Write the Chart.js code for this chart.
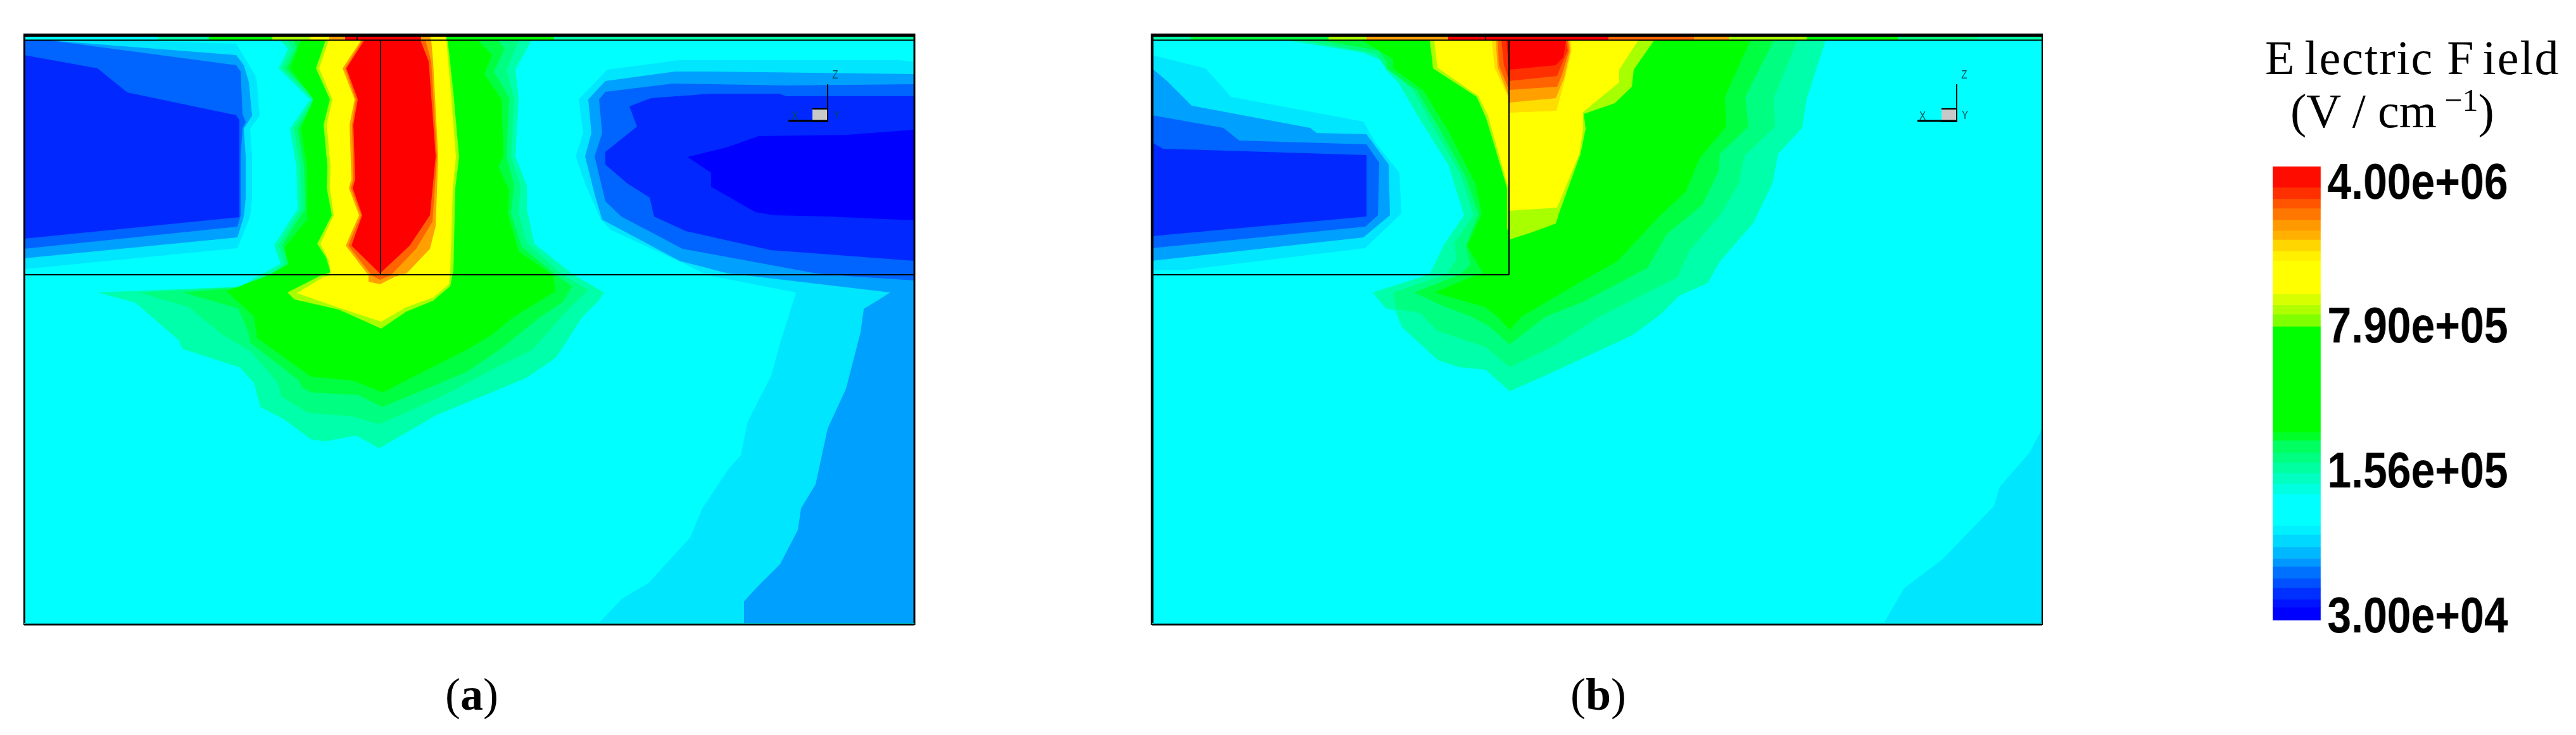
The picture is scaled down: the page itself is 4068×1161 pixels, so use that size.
<!DOCTYPE html>
<html>
<head>
<meta charset="utf-8">
<script src="https://cdn.jsdelivr.net/npm/chart.js@4"></script>
<style>
    html, body { margin: 0; background: #fff; }
    body { position: relative; width: 4068px; height: 1161px; overflow: hidden; }
    canvas { position: absolute; }
    .txt { position: absolute; white-space: nowrap; color: #000; font-family: "Liberation Serif", serif; }
    .triad { position: absolute; transform: translate(-50%, -50%) scaleX(0.8); color: #00505a; font: 19px "Liberation Sans", sans-serif; }
</style>
</head>
<body>
<canvas id="panel-a"></canvas>
<canvas id="panel-b"></canvas>
<canvas id="colorbar"></canvas>

<div class="txt" style="left:3577px;top:48px;font-size:76px;letter-spacing:2px"><span style="margin-right:14px">E</span>lectric <span style="margin-right:12px">F</span>ield</div>
<div class="txt" style="left:3617px;top:132px;font-size:76px">(V / cm<sup style="font-size:50px;line-height:0"> &#8722;1</sup>)</div>
<div class="txt" style="left:703px;top:1056px;font-size:72px">(<b>a</b>)</div>
<div class="txt" style="left:2480px;top:1056px;font-size:72px">(<b>b</b>)</div>

<div class="triad" style="left:1255px;top:183px">X</div>
<div class="triad" style="left:1321px;top:182px">Y</div>
<div class="triad" style="left:1319px;top:118px">Z</div>
<div class="triad" style="left:3036px;top:183px">X</div>
<div class="triad" style="left:3103px;top:182px">Y</div>
<div class="triad" style="left:3102px;top:118px">Z</div>

<script>
// colour levels of the field, low to high
const C_CYAN = '#00ffff';
const C_LOW_1 = '#00e6ff';
const C_LOW_2 = '#00a0ff';
const C_LOW_3 = '#0064ff';
const C_LOW_4 = '#0028ff';
const C_LOW_5 = '#0000ff';
const C_MID_1 = '#00ffaa';
const C_MID_2 = '#00ff80';
const C_MID_3 = '#00ff40';
const C_GREEN = '#00ff00';
const C_LIME = '#a8ff00';
const C_YELLOW = '#ffff00';
const C_GOLD = '#ffdd00';
const C_AMBER = '#ffa000';
const C_ORANGE = '#ff6400';
const C_RED_1 = '#ff3000';
const C_RED = '#ff0000';

// contours are [x, depth], same units for both panels

// panel (a), left side of the gate
const a_low_left_1 = [[38,64],[206,64],[373,69],[393,102],[405,123],[410,183],[395,203],[398,247],[398,313],[395,342],[375,392],[40,425],[38,425]];
const a_low_left_2 = [[38,64],[80,64],[373,87],[385,103],[393,130],[398,183],[385,203],[388,247],[388,313],[385,342],[375,375],[38,408]];
const a_low_left_3 = [[38,64],[80,64],[373,103],[380,113],[383,180],[388,193],[383,203],[380,247],[380,340],[375,358],[38,393]];
const a_low_left_4 = [[38,87],[154,108],[201,146],[373,182],[378,190],[378,343],[38,377]];

// panel (a), right side
const a_low_right_1 = [[959,110],[1073,95],[1421,95],[1444,98],[1444,986],[944,986],[982,946],[1024,921],[1090,849],[1109,803],[1151,740],[1170,719],[1180,668],[1218,593],[1232,542],[1257,462],[1118,435],[1073,413],[964,363],[949,347],[924,290],[909,247],[921,210],[914,157]];
const a_low_right_2 = [[956,128],[1066,113],[1123,113],[1444,117],[1444,986],[1175,986],[1175,950],[1194,929],[1232,891],[1260,837],[1265,803],[1288,765],[1307,677],[1336,614],[1359,525],[1364,488],[1406,462],[1178,435],[1150,432],[1073,412],[951,347],[939,307],[924,247],[934,210],[929,157]];
const a_low_right_3 = [[956,145],[1063,132],[1242,135],[1444,133],[1444,443],[1352,437],[1290,432],[1078,393],[981,342],[956,318],[939,247],[951,210],[946,157]];
const a_low_right_4 = [[994,168],[1028,155],[1123,148],[1230,148],[1242,152],[1444,152],[1444,412],[1217,395],[1083,365],[1033,342],[1026,312],[991,290],[956,260],[956,240],[1006,200]];
const a_low_right_5 = [[1086,248],[1150,232],[1198,215],[1337,213],[1444,205],[1444,348],[1307,342],[1222,340],[1193,335],[1123,295],[1123,273]];

// panel (a), high field around the gate edge
const a_mid_1 = [[443,64],[455,77],[440,108],[490,157],[458,203],[468,263],[470,330],[433,387],[443,417],[413,433],[378,453],[154,462],[214,478],[239,500],[283,538],[288,551],[378,580],[401,605],[411,643],[448,662],[491,694],[514,697],[562,688],[599,708],[689,656],[831,597],[878,565],[920,500],[944,477],[954,462],[904,433],[844,385],[832,330],[832,293],[814,247],[819,157],[814,110],[839,64]];
const a_mid_2 = [[454,64],[462,77],[446,108],[494,157],[464,203],[474,263],[476,330],[440,387],[449,417],[425,433],[385,453],[219,462],[298,485],[316,500],[353,530],[396,555],[439,605],[444,626],[486,652],[557,658],[599,670],[698,626],[788,578],[840,553],[887,500],[899,487],[929,458],[887,433],[832,383],[819,337],[822,293],[807,247],[812,157],[800,110],[819,64]];
const a_mid_3 = [[465,64],[468,77],[452,108],[498,157],[470,203],[480,263],[482,330],[446,387],[455,417],[437,433],[392,453],[289,462],[376,487],[382,500],[392,525],[396,542],[472,601],[477,612],[491,620],[566,624],[604,643],[736,588],[788,553],[854,500],[889,477],[904,452],[879,435],[824,390],[807,337],[812,293],[800,247],[804,155],[780,113],[797,77],[787,64]];
const a_green = [[475,64],[458,108],[495,157],[475,203],[485,263],[485,347],[450,390],[455,417],[428,433],[358,460],[401,500],[406,534],[491,595],[557,601],[604,620],[736,553],[775,530],[812,500],[877,460],[874,435],[819,397],[802,337],[804,300],[787,263],[795,247],[792,157],[765,117],[777,87],[755,64]];
const a_lime = [[514,64],[499,108],[521,157],[511,197],[517,263],[516,297],[524,340],[501,385],[515,407],[522,430],[505,436],[454,462],[465,473],[535,489],[602,519],[642,492],[684,475],[711,452],[716,427],[719,297],[725,248],[716,147],[707,64]];
const a_yellow = [[519,64],[504,108],[525,157],[516,197],[522,263],[521,297],[527,340],[506,385],[520,413],[522,435],[510,438],[469,463],[535,486],[602,508],[642,485],[684,470],[709,449],[711,427],[715,297],[720,248],[712,147],[705,64]];
const a_amber = [[570,64],[541,108],[560,157],[552,197],[555,283],[551,297],[567,340],[546,388],[582,435],[582,445],[600,449],[624,437],[642,432],[679,393],[688,357],[692,247],[684,97],[681,64]];
const a_orange = [[572,64],[545,108],[562,157],[556,197],[558,283],[554,297],[570,340],[550,388],[587,435],[600,442],[617,435],[657,393],[683,350],[690,247],[681,97],[672,64]];
const a_red = [[575,64],[547,108],[565,157],[558,197],[561,283],[557,297],[572,340],[555,388],[600,432],[647,388],[679,340],[688,247],[677,97],[664,64]];

// panel (b)
const b_low_1 = [[1819,87],[1904,108],[1944,153],[2153,192],[2173,227],[2210,273],[2213,337],[2156,392],[1867,427],[1819,427]];
const b_low_2 = [[1819,108],[1842,127],[1882,167],[2069,202],[2079,210],[2158,212],[2193,260],[2195,340],[2153,375],[1819,412]];
const b_low_3 = [[1819,182],[1932,202],[1957,222],[2158,228],[2178,257],[2176,340],[2156,358],[1819,392]];
const b_low_4 = [[1819,225],[1837,235],[1904,237],[2158,245],[2158,342],[1819,373]];
const b_low_corner = [[3225,677],[3205,715],[3158,769],[3149,799],[3068,883],[3007,929],[2974,986],[3225,986]];

const b_mid_1 = [[2034,64],[2153,83],[2185,97],[2188,110],[2208,130],[2245,193],[2287,260],[2312,340],[2280,387],[2258,433],[2168,462],[2188,487],[2203,490],[2214,517],[2271,569],[2304,580],[2346,584],[2384,618],[2441,593],[2577,530],[2622,497],[2652,467],[2697,447],[2716,413],[2769,352],[2799,290],[2808,243],[2846,202],[2853,157],[2883,64]];
const b_mid_2 = [[2059,64],[2173,85],[2188,107],[2230,140],[2265,203],[2307,277],[2327,340],[2297,383],[2300,410],[2285,433],[2200,462],[2205,488],[2245,495],[2247,500],[2271,523],[2346,548],[2384,580],[2455,546],[2526,500],[2649,438],[2667,397],[2716,340],[2746,290],[2754,247],[2803,200],[2801,155],[2838,64]];
const b_mid_3 = [[2088,64],[2178,80],[2190,98],[2190,108],[2238,143],[2273,203],[2315,280],[2335,338],[2315,388],[2322,418],[2307,433],[2233,462],[2278,483],[2323,500],[2351,515],[2384,544],[2441,500],[2500,477],[2602,423],[2632,370],[2689,323],[2714,270],[2716,243],[2761,200],[2756,153],[2801,64]];
const b_green = [[2151,64],[2200,93],[2200,108],[2248,143],[2287,207],[2330,290],[2340,338],[2317,388],[2342,432],[2322,438],[2265,462],[2345,485],[2365,500],[2384,521],[2403,500],[2500,443],[2555,412],[2617,345],[2662,303],[2684,250],[2726,200],[2724,153],[2764,64]];
const b_lime = [[2258,64],[2263,108],[2332,153],[2347,187],[2380,297],[2380,360],[2385,378],[2419,367],[2457,353],[2462,337],[2496,243],[2504,203],[2501,180],[2550,163],[2577,137],[2580,110],[2612,64]];
const b_yellow = [[2265,64],[2270,107],[2335,152],[2350,183],[2382,297],[2383,333],[2459,328],[2494,243],[2500,203],[2500,177],[2557,130],[2557,110],[2587,64]];
const b_gold = [[2356,64],[2360,107],[2381,152],[2384,178],[2458,175],[2471,127],[2482,80],[2481,64]];
const b_amber = [[2362,64],[2365,107],[2383,153],[2384,162],[2457,155],[2470,123],[2480,80],[2478,64]];
const b_orange = [[2365,64],[2367,103],[2383,142],[2459,137],[2467,117],[2478,80],[2476,64]];
const b_red_1 = [[2371,64],[2375,103],[2383,128],[2459,120],[2464,107],[2476,80],[2473,64]];
const b_red = [[2379,64],[2383,110],[2457,103],[2469,90],[2473,64]];

// thin top layer, colour changes at these x
const a_strip_stops = [38, 250, 330, 430, 490, 520, 545, 665, 680, 705, 875, 1444];
const a_strip_colors = [C_CYAN, C_MID_1, C_GREEN, C_LIME, C_YELLOW, C_AMBER, C_RED, C_AMBER, C_YELLOW, C_GREEN, C_MID_1];
const b_strip_stops = [1819, 1880, 2098, 2158, 2287, 2540, 2675, 2730, 2853, 2997, 3122, 3225];
const b_strip_colors = [C_MID_1, C_MID_3, C_LIME, C_AMBER, C_RED, C_ORANGE, C_AMBER, C_LIME, C_GREEN, C_MID_2, C_MID_1];

// colour bar
const bar_edges = [0, 2.8, 4.6, 7.1, 9.2, 11.8, 13.6, 16.1, 18.8, 20.8, 27.8, 30, 32.4, 34.7, 36.9, 39.6, 41.4, 64.7, 67.4, 69.4, 71.9, 79.2, 81.3, 83.8, 85.8, 88.2, 90.7, 92.8, 95.3, 100];
const bar_colors = ['#0000ff', '#0014ff', '#0030ff', '#0050ff', '#0070ff', '#0098ff', '#00b8ff', '#00d8ff', '#00f0ff', '#00ffff', '#00ffe0', '#00ffc0', '#00ffa0', '#00ff80', '#00ff60', '#00ff28', '#00ff00', '#80ff00', '#b0ff00', '#d8ff00', '#ffff00', '#fff000', '#ffd500', '#ffb000', '#ff9900', '#ff7700', '#ff5500', '#ff3000', '#ff0c00'];
const bar_tick_levels = [95.9, 64.3, 32.3, 0.4];
const bar_tick_labels = ['4.00e+06', '7.90e+05', '1.56e+05', '3.00e+04'];

const a_contours = [
    [C_LOW_1, a_low_left_1], [C_LOW_2, a_low_left_2], [C_LOW_3, a_low_left_3], [C_LOW_4, a_low_left_4],
    [C_LOW_1, a_low_right_1], [C_LOW_2, a_low_right_2], [C_LOW_3, a_low_right_3], [C_LOW_4, a_low_right_4], [C_LOW_5, a_low_right_5],
    [C_MID_1, a_mid_1], [C_MID_2, a_mid_2], [C_MID_3, a_mid_3], [C_GREEN, a_green],
    [C_LIME, a_lime], [C_YELLOW, a_yellow], [C_AMBER, a_amber], [C_ORANGE, a_orange], [C_RED, a_red]
];
const b_contours = [
    [C_LOW_1, b_low_1], [C_LOW_2, b_low_2], [C_LOW_3, b_low_3], [C_LOW_4, b_low_4], [C_LOW_1, b_low_corner],
    [C_MID_1, b_mid_1], [C_MID_2, b_mid_2], [C_MID_3, b_mid_3], [C_GREEN, b_green],
    [C_LIME, b_lime], [C_YELLOW, b_yellow], [C_GOLD, b_gold], [C_AMBER, b_amber], [C_ORANGE, b_orange], [C_RED_1, b_red_1], [C_RED, b_red]
];

function to_points(pairs) {
    return pairs.map((p) => ({ x: p[0], y: p[1] }));
}

function rect(x0, y0, x1, y1) {
    return [[x0, y0], [x1, y0], [x1, y1], [x0, y1]];
}

function area_dataset(color, pairs) {
    return {
        type: 'scatter',
        data: to_points(pairs),
        showLine: true,
        fill: 'shape',
        backgroundColor: color,
        borderWidth: 0,
        pointRadius: 0
    };
}

function line_dataset(pairs, width, color) {
    return {
        type: 'scatter',
        data: to_points(pairs),
        showLine: true,
        fill: false,
        borderColor: color || '#000',
        borderWidth: width,
        pointRadius: 0
    };
}

function strip_datasets(stops, colors) {
    return colors.map((color, i) => area_dataset(color, rect(stops[i], 58, stops[i + 1], 63)));
}

function triad_datasets(x) {
    const box = area_dataset('#c8c8c8', rect(x - 24, 172, x, 192));
    box.borderColor = '#000';
    box.borderWidth = 2;
    return [
        line_dataset([[x, 133], [x, 172]], 2),
        box,
        line_dataset([[x - 62, 191], [x, 191]], 3)
    ];
}

function make_panel(canvas_id, left, contours, extra) {
    const canvas = document.getElementById(canvas_id);
    canvas.style.left = left + 'px';
    canvas.style.top = '45px';
    canvas.width = 1424;
    canvas.height = 950;

    const datasets = contours.map((c) => area_dataset(c[0], c[1])).concat(extra);
    // later in the list paints on top
    datasets.forEach((d, i) => { d.order = datasets.length - i; });

    return new Chart(canvas.getContext('2d'), {
        type: 'scatter',
        data: { datasets: datasets },
        options: {
            responsive: false,
            animation: false,
            events: [],
            plugins: { legend: { display: false }, tooltip: { enabled: false } },
            scales: {
                x: { type: 'linear', display: false, min: left, max: left + 1424 },
                y: { type: 'linear', display: false, reverse: true, min: 45, max: 995 }
            }
        }
    });
}

function make_colorbar() {
    // no narrow sans installed, so the whole bar chart is squeezed sideways
    const squeeze = 0.85;
    const canvas = document.getElementById('colorbar');
    canvas.style.left = '3589px';
    canvas.style.top = '200px';
    canvas.style.transformOrigin = '0 0';
    canvas.style.transform = 'scaleX(' + squeeze + ')';
    canvas.width = Math.round(479 / squeeze);
    canvas.height = 840;

    const datasets = bar_colors.map((color, i) => ({
        data: [[bar_edges[i], bar_edges[i + 1]]],
        backgroundColor: color,
        borderWidth: 0,
        grouped: false,
        barPercentage: 1,
        categoryPercentage: 1
    }));

    return new Chart(canvas.getContext('2d'), {
        type: 'bar',
        data: { labels: [''], datasets: datasets },
        options: {
            responsive: false,
            animation: false,
            events: [],
            layout: { padding: { top: 63, bottom: 57, left: 0, right: 0 } },
            plugins: { legend: { display: false }, tooltip: { enabled: false } },
            scales: {
                x: { display: false },
                y: {
                    position: 'right',
                    min: 0,
                    max: 100,
                    grid: { display: false, drawTicks: false },
                    border: { display: false },
                    afterFit: (scale) => { scale.width = canvas.width - 76 / squeeze; },
                    afterBuildTicks: (scale) => { scale.ticks = bar_tick_levels.map((v) => ({ value: v })); },
                    ticks: {
                        autoSkip: false,
                        padding: 12,
                        color: '#000',
                        font: { family: '"Liberation Sans", sans-serif', size: 80, weight: 'bold' },
                        callback: (value) => bar_tick_labels[bar_tick_levels.indexOf(value)]
                    }
                }
            }
        }
    });
}

const a_extra = strip_datasets(a_strip_stops, a_strip_colors).concat([
    line_dataset([[38, 55.5], [1444, 55.5]], 5),
    line_dataset([[38, 63.5], [1444, 63.5]], 2),
    line_dataset([[38.5, 53], [38.5, 987]], 3),
    line_dataset([[1444, 53], [1444, 987]], 3),
    line_dataset([[38, 985], [1444, 985]], 2, '#00aaaa'),
    line_dataset([[38, 987], [1444, 987]], 2),
    line_dataset([[38, 434], [1444, 434]], 2),
    line_dataset([[601, 64], [601, 434]], 2),
    line_dataset([[564, 57], [564, 63]], 1.5)
]).concat(triad_datasets(1307));

const b_extra = strip_datasets(b_strip_stops, b_strip_colors).concat([
    line_dataset([[1819, 55.5], [3225, 55.5]], 5),
    line_dataset([[1819, 63.5], [3225, 63.5]], 2),
    line_dataset([[1819.5, 53], [1819.5, 987]], 4),
    line_dataset([[3225, 53], [3225, 987]], 2),
    line_dataset([[1819, 985], [3225, 985]], 2, '#00aaaa'),
    line_dataset([[1819, 987], [3225, 987]], 2),
    line_dataset([[1819, 434], [2383, 434]], 2),
    line_dataset([[2383, 64], [2383, 434]], 2),
    line_dataset([[2346, 57], [2346, 63]], 1.5)
]).concat(triad_datasets(3090));

make_panel('panel-a', 30, [[C_CYAN, rect(38, 64, 1444, 986)]].concat(a_contours), a_extra);
make_panel('panel-b', 1810, [[C_CYAN, rect(1819, 64, 3225, 986)]].concat(b_contours), b_extra);
make_colorbar();
</script>
</body>
</html>
